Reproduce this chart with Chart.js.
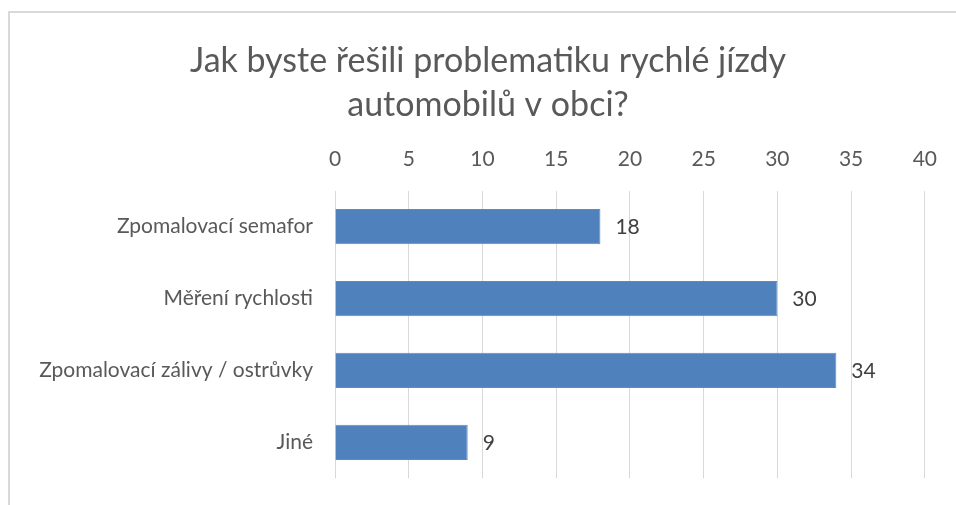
<!DOCTYPE html>
<html lang="cs">

<head>
    <meta charset="UTF-8">
    <title>Rychlá jízda</title>
    <style>
        body { margin: 0; background: #fff; }
        #wrap { width: 956px; height: 505px; }
    </style>
</head>

<body>
    <div id="wrap">
        <canvas id="myChart" width="956" height="505"></canvas>
    </div>

    <script src="https://cdn.jsdelivr.net/npm/chart.js"></script>
    <script>
        const categories = ['Zpomalovací semafor', 'Měření rychlosti', 'Zpomalovací zálivy / ostrůvky', 'Jiné'];
        const answers = [18, 30, 34, 9];
        const titleLines = ['Jak byste řešili problematiku rychlé jízdy', 'automobilů v obci?'];

        const fontFamily = 'Lato, "Open Sans", sans-serif';

        // frame of the chart (only left and top edges are visible)
        const framePlugin = {
            id: 'frame',
            beforeDraw(chart) {
                const c = chart.ctx;
                c.save();
                c.strokeStyle = '#d9d9d9';
                c.lineWidth = 2;
                c.beginPath();
                c.moveTo(9, 505);
                c.lineTo(9, 12);
                c.lineTo(956, 12);
                c.stroke();
                c.restore();
            }
        };

        // value labels to the right of each bar
        const valueLabels = {
            id: 'valueLabels',
            afterDatasetsDraw(chart) {
                const c = chart.ctx;
                const meta = chart.getDatasetMeta(0);
                c.save();
                c.font = '21px ' + fontFamily;
                c.fillStyle = '#404040';
                c.textAlign = 'left';
                c.textBaseline = 'middle';
                meta.data.forEach((bar, i) => {
                    c.fillText(chart.data.datasets[0].data[i], bar.x + 15, bar.y + 1);
                });
                c.restore();
            }
        };

        const ctx = document.getElementById('myChart');

        new Chart(ctx, {
            type: 'bar',
            data: {
                labels: categories,
                datasets: [{
                    data: answers,
                    backgroundColor: '#4f81bd',
                    borderColor: '#5b8bc6',
                    borderWidth: 1,
                    barPercentage: 0.49,
                    categoryPercentage: 1
                }]
            },
            options: {
                indexAxis: 'y',
                responsive: false,
                animation: false,
                layout: {
                    autoPadding: false,
                    padding: { top: 0, right: 8, bottom: 21, left: 28 }
                },
                plugins: {
                    legend: { display: false },
                    tooltip: { enabled: false },
                    title: {
                        display: true,
                        text: titleLines,
                        color: '#595959',
                        font: { family: fontFamily, size: 34, weight: 'normal', lineHeight: 1.3 },
                        padding: { top: 39, bottom: 0 }
                    }
                },
                scales: {
                    x: {
                        position: 'top',
                        min: 0,
                        max: 40,
                        ticks: {
                            stepSize: 5,
                            color: '#595959',
                            font: { family: fontFamily, size: 21 },
                            padding: 19
                        },
                        grid: { color: '#d9d9d9', drawTicks: false },
                        border: { display: false }
                    },
                    y: {
                        afterFit(scale) { scale.width = 307; },
                        ticks: {
                            color: '#595959',
                            font: { family: fontFamily, size: 21 },
                            padding: 14
                        },
                        grid: { display: false },
                        border: { display: false }
                    },
                    // empty spacer on the right so the plot ends where the reference does
                    spacer: {
                        type: 'linear',
                        axis: 'y',
                        position: 'right',
                        afterFit(scale) { scale.width = 20; },
                        ticks: { display: false },
                        grid: { display: false },
                        border: { display: false }
                    }
                }
            },
            plugins: [framePlugin, valueLabels]
        });
    </script>

</body>

</html>
